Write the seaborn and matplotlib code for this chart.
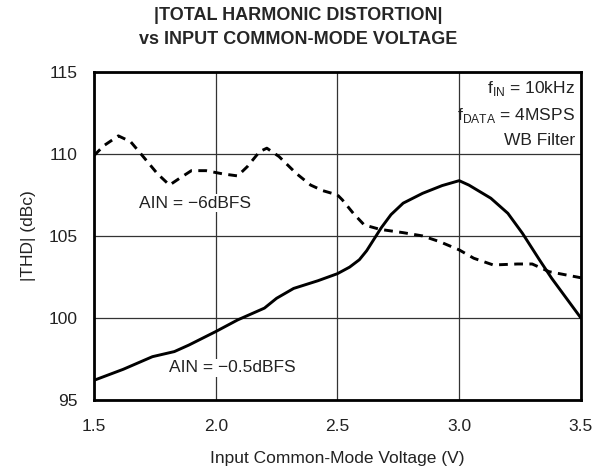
import pandas as pd
import matplotlib.pyplot as plt
import seaborn as sns

# Curves
vcm_6db = [1.50, 1.54, 1.60, 1.65, 1.69, 1.76, 1.81, 1.85, 1.90, 1.96, 2.03, 2.09, 2.13,
           2.18, 2.21, 2.26, 2.33, 2.39, 2.44, 2.50, 2.52, 2.565, 2.61, 2.675, 2.77, 2.85,
           2.92, 3.00, 3.06, 3.14, 3.24, 3.30, 3.37, 3.50]
thd_6db = [109.9, 110.5, 111.1, 110.75, 110.05, 108.8, 108.1, 108.5, 108.98, 108.98, 108.78, 108.66, 109.23,
           110.14, 110.35, 109.84, 108.82, 108.1, 107.76, 107.5, 107.2, 106.38, 105.67, 105.4, 105.2, 105.0,
           104.65, 104.15, 103.64, 103.23, 103.29, 103.29, 102.82, 102.45]

vcm_05db = [1.50, 1.62, 1.74, 1.83, 1.89, 2.00, 2.09, 2.20, 2.25, 2.32, 2.42, 2.50, 2.55, 2.59, 2.62,
            2.65, 2.68, 2.72, 2.77, 2.85, 2.93, 3.00, 3.04, 3.13, 3.20, 3.26, 3.33, 3.38, 3.50]
thd_05db = [96.2, 96.87, 97.64, 97.95, 98.35, 99.17, 99.88, 100.6, 101.2, 101.8, 102.27, 102.7, 103.1, 103.55, 104.1,
            104.8, 105.5, 106.3, 107.0, 107.6, 108.07, 108.37, 108.1, 107.3, 106.38, 105.16, 103.54, 102.42, 100.0]

df = pd.concat([
    pd.DataFrame({'vcm': vcm_6db, 'thd': thd_6db, 'ain': '-6dBFS'}),
    pd.DataFrame({'vcm': vcm_05db, 'thd': thd_05db, 'ain': '-0.5dBFS'}),
])

sns.set_style("white")
plt.rcParams['font.family'] = ['Liberation Sans', 'DejaVu Sans']
plt.rcParams['mathtext.fontset'] = 'custom'
plt.rcParams['mathtext.rm'] = 'Liberation Sans'

fig = plt.figure(figsize=(5.97, 4.70), dpi=100)
ax = fig.add_axes([0.1575, 0.149, 0.8155, 0.698])

sns.lineplot(data=df, x='vcm', y='thd', style='ain', style_order=['-6dBFS', '-0.5dBFS'],
             dashes={'-6dBFS': (3, 2.2), '-0.5dBFS': ''}, color='black', linewidth=2.1,
             legend=False, ax=ax, sort=False)

ax.set_xlim(1.5, 3.5)
ax.set_ylim(95, 115)
ax.set_xticks([1.5, 2.0, 2.5, 3.0, 3.5])
ax.set_xticklabels(['1.5', '2.0', '2.5', '3.0', '3.5'])
ax.set_yticks([95, 100, 105, 110, 115])
ax.grid(True, color='#333333', linewidth=0.9)
ax.tick_params(axis='both', length=0, labelsize=12.5, labelcolor='#222222')
ax.tick_params(axis='x', pad=14)
ax.tick_params(axis='y', pad=12)
for s in ax.spines.values():
    s.set_color('black')
    s.set_linewidth(2)

ax.set_xlabel('Input Common-Mode Voltage (V)', fontsize=12.5, labelpad=12, color='#222222')
ax.set_ylabel('|THD| (dBc)', fontsize=12.5, labelpad=9, color='#222222')
fig.text(0.5, 1 - 15 / 470, '|TOTAL HARMONIC DISTORTION|', fontsize=13, fontweight='bold',
         ha='center', va='center')
fig.text(0.5, 1 - 40 / 470, 'vs INPUT COMMON-MODE VOLTAGE', fontsize=13, fontweight='bold',
         ha='center', va='center')

box = dict(facecolor='white', edgecolor='none', pad=1)
ax.text(1.915, 107.0, 'AIN = \u22126dBFS', fontsize=12.5, ha='center', va='center', bbox=box, color='#222222')
ax.text(2.067, 96.95, 'AIN = \u22120.5dBFS', fontsize=12.5, ha='center', va='center', bbox=box, color='#222222')
ax.text(3.475, 114.0, r'f$_{\mathregular{IN}}$ = 10kHz', fontsize=12.5, ha='right', va='center', color='#222222')
ax.text(3.475, 112.35, r'f$_{\mathregular{DATA}}$ = 4MSPS', fontsize=12.5, ha='right', va='center', color='#222222')
ax.text(3.475, 110.8, 'WB Filter', fontsize=12.5, ha='right', va='center', color='#222222')

plt.savefig('out.png', dpi=100)
